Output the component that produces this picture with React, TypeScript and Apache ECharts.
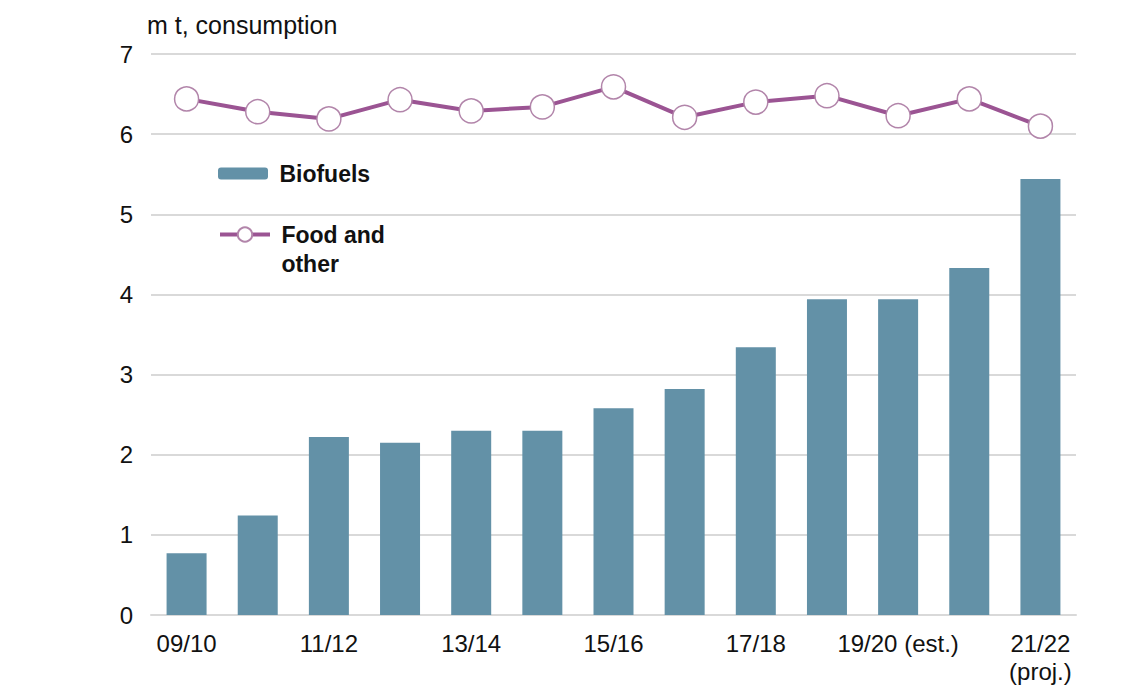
import React, { useEffect, useRef } from "react";
import * as echarts from "echarts";

const categories = [
  "09/10", "10/11", "11/12", "12/13", "13/14", "14/15", "15/16",
  "16/17", "17/18", "18/19", "19/20 (est.)", "20/21", "21/22\n(proj.)",
];
const biofuels = [0.77, 1.24, 2.22, 2.15, 2.3, 2.3, 2.58, 2.82, 3.34, 3.94, 3.94, 4.33, 5.44];
const foodOther = [6.44, 6.28, 6.19, 6.43, 6.29, 6.34, 6.59, 6.21, 6.4, 6.48, 6.23, 6.44, 6.1];
const yTicks = [0, 1, 2, 3, 4, 5, 6, 7];

const FONT = "Liberation Sans, Arial, sans-serif";
const LINE_COLOR = "#9B5493";

export default function App() {
  const ref = useRef<HTMLDivElement>(null);
  useEffect(() => {
    if (!ref.current) return;
    const chart = echarts.init(ref.current, null, { renderer: "svg" });
    chart.setOption({
      animation: false,
      textStyle: { fontFamily: FONT },
      title: {
        text: "m t, consumption",
        left: 139,
        top: 4,
        padding: 0,
        textStyle: { fontSize: 25, fontWeight: "normal", color: "#111", fontFamily: FONT },
      },
      grid: { left: 143, right: 50, top: 46, bottom: 71 },
      legend: [
        {
          data: ["Biofuels"],
          left: 210,
          top: 154,
          padding: 0,
          itemWidth: 50,
          itemHeight: 12,
          formatter: () => " Biofuels",
          textStyle: { fontSize: 23, fontWeight: "bold", color: "#111", fontFamily: FONT },
        },
        {
          data: ["Food and other"],
          left: 210,
          top: 183,
          padding: 0,
          itemWidth: 50,
          itemHeight: 18,
          lineStyle: { width: 4, color: LINE_COLOR },
          formatter: () => " \n Food and\n other",
          textStyle: {
            fontSize: 23,
            fontWeight: "bold",
            color: "#111",
            fontFamily: FONT,
            lineHeight: 29,
          },
        },
      ],
      xAxis: {
        type: "category",
        data: categories,
        axisTick: { show: false },
        axisLine: { lineStyle: { color: "#d9d9d9", width: 2 } },
        axisLabel: {
          interval: 1,
          fontSize: 24,
          color: "#111",
          margin: 14,
          lineHeight: 28,
          fontFamily: FONT,
        },
      },
      yAxis: {
        type: "value",
        min: 0,
        max: 7,
        interval: 1,
        axisLine: { show: false },
        axisTick: { show: false },
        splitLine: { lineStyle: { color: "#d9d9d9", width: 2 } },
        axisLabel: {
          fontSize: 24,
          color: "#111",
          margin: 18,
          fontFamily: FONT,
          formatter: (v: number) => (yTicks.includes(v) ? String(v) : ""),
        },
      },
      series: [
        {
          name: "Biofuels",
          type: "bar",
          data: biofuels,
          barWidth: 40,
          itemStyle: { color: "#6391A7" },
        },
        {
          name: "Food and other",
          type: "line",
          data: foodOther,
          symbol: "circle",
          symbolSize: 24,
          lineStyle: { color: LINE_COLOR, width: 4 },
          itemStyle: { color: "#ffffff", borderColor: "#B285AA", borderWidth: 1.5 },
        },
      ],
    });
    return () => chart.dispose();
  }, []);
  return <div ref={ref} style={{ width: 1118, height: 678 }} />;
}
